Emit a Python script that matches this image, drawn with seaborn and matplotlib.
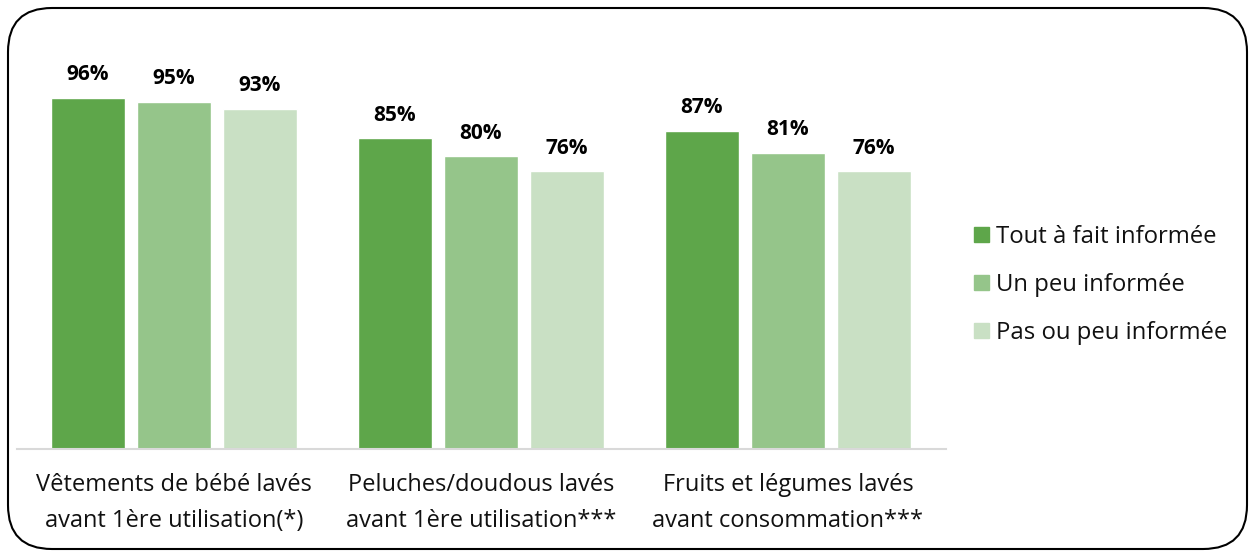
import matplotlib
matplotlib.use("Agg")
import matplotlib.pyplot as plt
import seaborn as sns
import pandas as pd
from matplotlib.patches import FancyBboxPatch

categories = ["Vêtements de bébé lavés\navant 1ère utilisation(*)",
              "Peluches/doudous lavés\navant 1ère utilisation***",
              "Fruits et légumes lavés\navant consommation***"]
series = ["Tout à fait informée", "Un peu informée", "Pas ou peu informée"]
tout_a_fait = [96, 85, 87]
un_peu = [95, 80, 81]
pas_ou_peu = [93, 76, 76]
colors = ["#5ea64a", "#95c58a", "#c9e0c4"]

rows = []
for s, vals in zip(series, [tout_a_fait, un_peu, pas_ou_peu]):
    for c, v in zip(categories, vals):
        rows.append({"cat": c, "serie": s, "val": v})
df = pd.DataFrame(rows)

sns.set_theme(style="white")
plt.rcParams["font.family"] = ["Open Sans", "DejaVu Sans"]

W, H = 1255, 557
fig = plt.figure(figsize=(W / 100, H / 100), dpi=100)
ax = fig.add_axes([17 / W, 1 - 449 / H, (946 - 17) / W, (449 - 20) / H])

sns.barplot(data=df, x="cat", y="val", hue="serie", hue_order=series,
            order=categories, palette=colors, width=0.84, gap=0.14,
            saturation=1, ax=ax, legend=True)

ax.set_xlim(-0.511, 2.515)
ax.set_ylim(0, 117.3)
for cont in ax.containers:
    ax.bar_label(cont, labels=[f"{int(round(v))}%" for v in cont.datavalues],
                 padding=9, fontsize=15, fontweight="bold", color="#000000")

ax.set_xlabel("")
ax.set_ylabel("")
ax.set_yticks([])
for side in ["left", "right", "top"]:
    ax.spines[side].set_visible(False)
ax.spines["bottom"].set_color("#d9d9d9")
ax.spines["bottom"].set_linewidth(1.5)
ax.tick_params(axis="x", length=0, pad=17, labelsize=17, labelcolor="#111111")
for t in ax.get_xticklabels():
    t.set_linespacing(1.7)

ax.legend_.remove()
handles = [plt.Rectangle((0, 0), 1, 1, color=c) for c in colors]
fig.legend(handles, series, loc="center left",
           bbox_to_anchor=(974 / W, 1 - 285 / H), frameon=False,
           fontsize=17.2, handlelength=0.62, handleheight=0.62,
           handletextpad=0.3, labelspacing=1.0, borderpad=0,
           borderaxespad=0, labelcolor="#111111")

box = FancyBboxPatch((8 / W, 8 / H), (W - 16) / W, (H - 16) / H,
                     boxstyle="round,pad=0,rounding_size=0.035",
                     transform=fig.transFigure, fill=False,
                     edgecolor="black", linewidth=1.5,
                     mutation_aspect=W / H)
fig.patches.append(box)

fig.savefig("out.png", dpi=100)
